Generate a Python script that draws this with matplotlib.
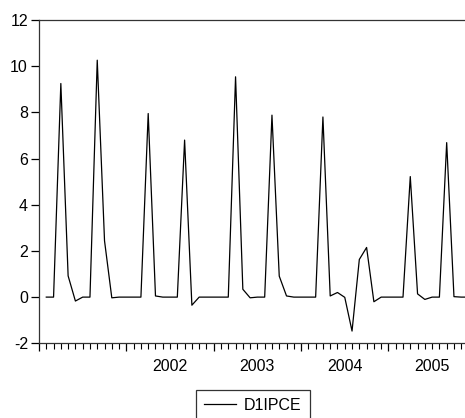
import numpy as np
import matplotlib
matplotlib.use("Agg")
import matplotlib.pyplot as plt
from matplotlib.ticker import MultipleLocator, FixedLocator, FuncFormatter

plt.rcParams['font.family'] = ['Liberation Sans', 'DejaVu Sans']

# monthly series, 2001M2 .. 2005M12
start_year, start_month = 2001, 2
d1ipce = [
    0.00, 0.00, 9.25, 0.92, -0.17, 0.00, 0.00, 10.26, 2.44, -0.03,
    0.00, 0.00, 0.00, 0.00, 7.95, 0.05, 0.00, 0.00, 0.00, 6.80,
    -0.35, 0.00, 0.00, 0.00, 0.00, 0.00, 9.54, 0.34, -0.03, 0.00,
    0.00, 7.88, 0.91, 0.05, 0.00, 0.00, 0.00, 0.00, 7.80, 0.05,
    0.20, -0.01, -1.47, 1.63, 2.15, -0.20, 0.00, 0.00, 0.00, 0.00,
    5.22, 0.14, -0.10, 0.00, 0.00, 6.69, 0.02, 0.00, 0.00,
]
year_labels = [2002, 2003, 2004, 2005]
y_ticks = [-2, 0, 2, 4, 6, 8, 10, 12]

t = start_year + (start_month - 1 + np.arange(len(d1ipce))) / 12.0

fig = plt.figure(figsize=(4.65, 4.18), dpi=100)
# plot box runs past the right edge (cropped like the original)
ax = fig.add_axes([39 / 465, 1 - 343.3 / 418, 436.8 / 465, 323.3 / 418])

ax.plot(t, d1ipce, color='black', linewidth=0.9, label='D1IPCE')

ax.set_xlim(2001.0, 2006.0)
ax.set_ylim(-2, 12)
ax.set_yticks(y_ticks)
ax.set_yticklabels([str(v) for v in y_ticks])

# year boundaries as major ticks, months as minor ticks carrying the year labels
ax.xaxis.set_major_locator(MultipleLocator(1.0))
ax.xaxis.set_major_formatter(FuncFormatter(lambda x, p: ''))
ax.xaxis.set_minor_locator(FixedLocator(2001 + np.arange(60) / 12.0))


def year_fmt(x, pos):
    yr = int(np.floor(x + 1e-6))
    if abs(x - yr - 0.5) < 1e-3 and yr in year_labels:
        return str(yr)
    return ''


ax.xaxis.set_minor_formatter(FuncFormatter(year_fmt))

ax.tick_params(axis='y', direction='out', length=6, width=0.9, labelsize=11.5, pad=2)
ax.tick_params(axis='x', which='major', direction='out', length=6, width=0.9, pad=8)
ax.tick_params(axis='x', which='minor', direction='out', length=4, width=0.8,
               labelsize=11.5, pad=7)

for s in ax.spines.values():
    s.set_color('#333333')
    s.set_linewidth(0.9)

leg = fig.legend(loc='upper center', bbox_to_anchor=(252.8 / 465, 1 - 390 / 418),
                 fontsize=11.5, frameon=True, fancybox=False, handlelength=2.0,
                 handletextpad=0.5, borderpad=0.5, borderaxespad=0)
leg.get_frame().set_edgecolor('black')
leg.get_frame().set_linewidth(0.9)

fig.savefig('out.png', dpi=100, facecolor='white')
